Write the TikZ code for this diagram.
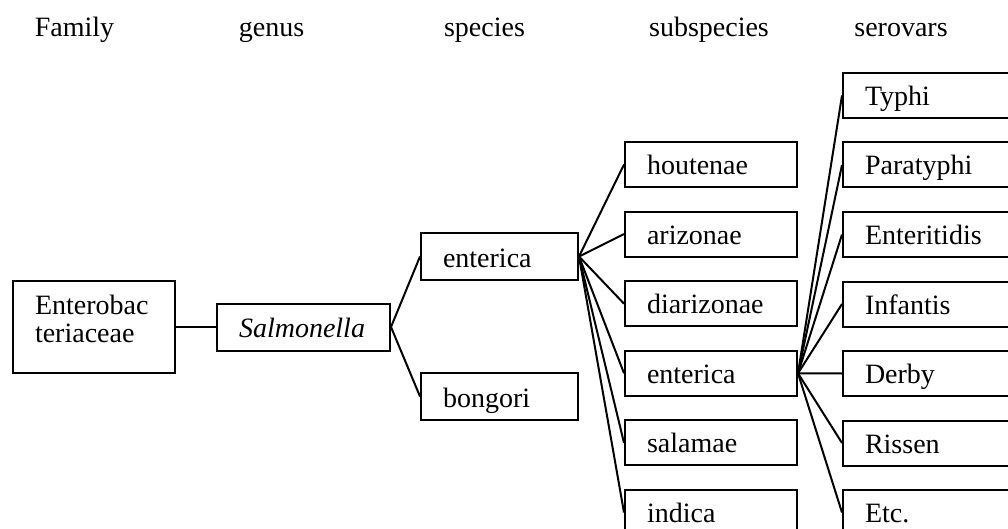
\documentclass[tikz,border=0pt]{standalone}
\usepackage{fontspec}
\setmainfont{Liberation Serif}
\begin{document}
\begin{tikzpicture}[x=1pt, y=-1pt, line width=2pt,
  every node/.style={font=\fontsize{28}{28}\selectfont},
  taxbox/.style={draw, rectangle, inner xsep=22pt, inner ysep=0pt, minimum height=45pt, text width=128pt, align=left, text height=20pt, text depth=0pt},
  rank/.style={anchor=base}]
\useasboundingbox (0,0) rectangle (1008,529);
% column titles
\node[rank] (tfam) at (74.5,37) {Family};
\node[rank] (tgen) at (271.5,37) {genus};
\node[rank] (tspe) at (484.5,37) {species};
\node[rank] (tsub) at (709,37) {subspecies};
\node[rank] (tser) at (901,37) {serovars};
% family and genus
\node[taxbox, minimum width=162pt, minimum height=92pt, text width=118pt, text height=19pt, text depth=44pt] (fam) at (94,327) {Enterobac\\teriaceae};
\node[taxbox, minimum width=173pt, minimum height=47pt, text width=129pt, text height=21pt] (salm) at (303.5,327) {\textit{Salmonella}};
% species
\node[taxbox, minimum width=157pt, minimum height=47pt, text width=113pt, text height=21pt] (ent) at (499.5,256.5) {enterica};
\node[taxbox, minimum width=157pt, minimum height=47pt, text width=113pt, text height=21pt] (bong) at (499.5,396.5) {bongori};
% subspecies
\node[taxbox, minimum width=172pt] (hout) at (711,164.5) {houtenae};
\node[taxbox, minimum width=172pt] (ariz) at (711,234.1) {arizonae};
\node[taxbox, minimum width=172pt] (diar) at (711,303.7) {diarizonae};
\node[taxbox, minimum width=172pt] (sent) at (711,373.3) {enterica};
\node[taxbox, minimum width=172pt] (sala) at (711,442.9) {salamae};
\node[taxbox, minimum width=172pt] (indi) at (711,512.5) {indica};
% serovars
\node[taxbox, minimum width=172pt] (typh) at (929,95.5) {Typhi};
\node[taxbox, minimum width=172pt] (para) at (929,165) {Paratyphi};
\node[taxbox, minimum width=172pt] (ente) at (929,234.5) {Enteritidis};
\node[taxbox, minimum width=172pt] (infa) at (929,304) {Infantis};
\node[taxbox, minimum width=172pt] (derb) at (929,373.5) {Derby};
\node[taxbox, minimum width=172pt] (riss) at (929,443) {Rissen};
\node[taxbox, minimum width=172pt] (etc) at (929,512.5) {Etc.};
% links
\draw (fam) -- (salm);
\draw (salm.east) -- (ent.west);
\draw (salm.east) -- (bong.west);
\draw (ent.east) -- (hout.west);
\draw (ent.east) -- (ariz.west);
\draw (ent.east) -- (diar.west);
\draw (ent.east) -- (sent.west);
\draw (ent.east) -- (sala.west);
\draw (ent.east) -- (indi.west);
\draw (sent.east) -- (typh.west);
\draw (sent.east) -- (para.west);
\draw (sent.east) -- (ente.west);
\draw (sent.east) -- (infa.west);
\draw (sent.east) -- (derb.west);
\draw (sent.east) -- (riss.west);
\draw (sent.east) -- (etc.west);
\end{tikzpicture}
\end{document}
